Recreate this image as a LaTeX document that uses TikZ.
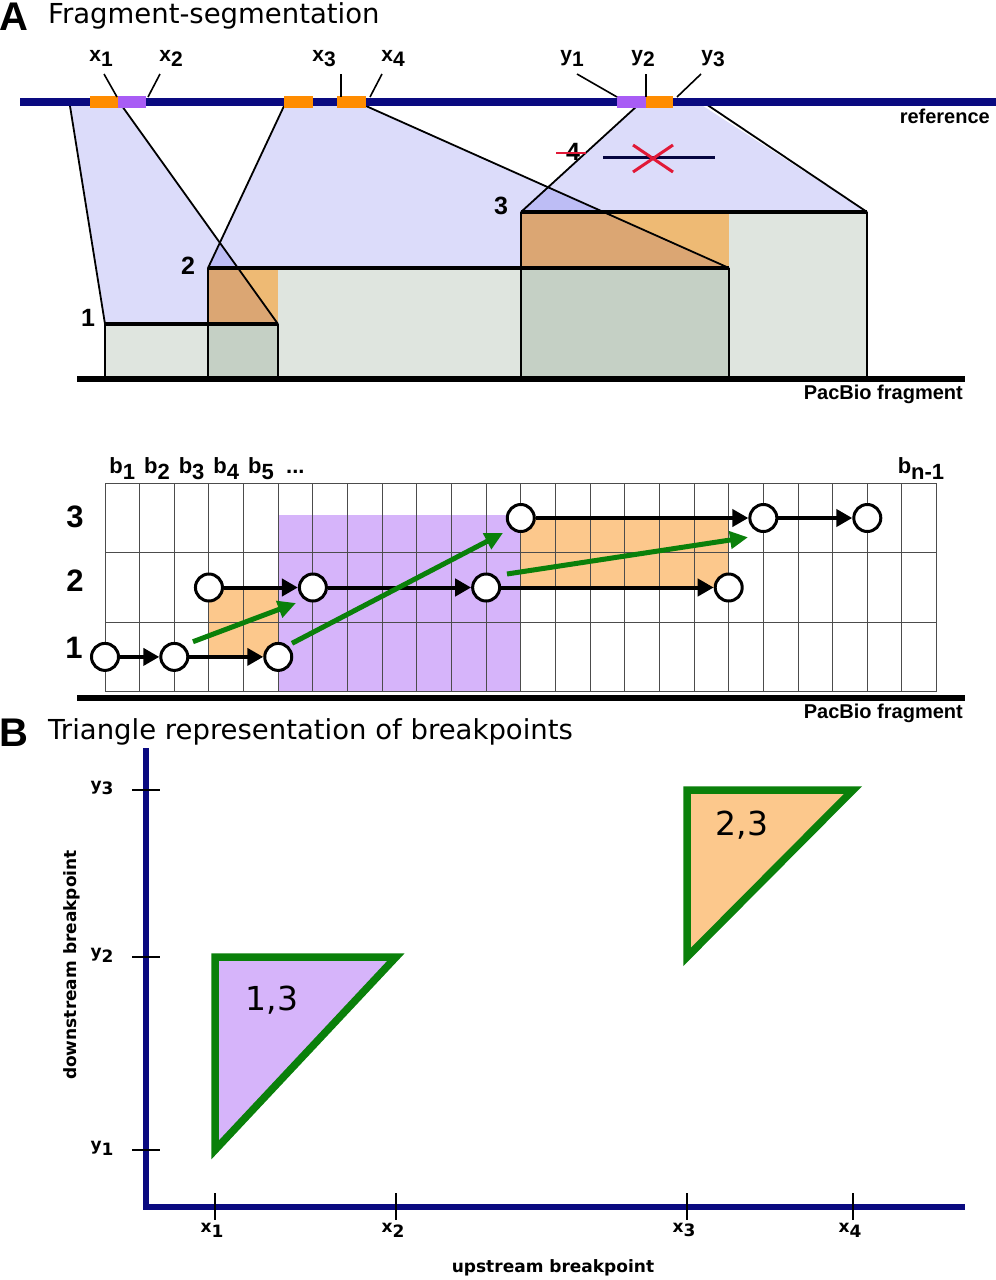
\documentclass[tikz,border=0pt]{standalone}
\usepackage{fontspec}
\setmainfont{Liberation Sans}
\newfontfamily\titlefont{DejaVu Sans}
\usepackage{xcolor}
\usepackage{tikz}
\usetikzlibrary{arrows.meta}
\usetikzlibrary{positioning}
\definecolor{refblue}{RGB}{10,10,128}
\definecolor{segorange}{RGB}{255,140,0}
\definecolor{segpurple}{RGB}{168,92,245}
\definecolor{lavender}{RGB}{220,220,250}
\definecolor{fraggray}{RGB}{223,229,223}
\definecolor{fragdark}{RGB}{197,208,197}
\definecolor{overorange}{RGB}{238,186,116}
\definecolor{overdark}{RGB}{219,166,115}
\definecolor{binpurple}{RGB}{214,180,250}
\definecolor{binorange}{RGB}{252,200,140}
\definecolor{jumpgreen}{RGB}{10,128,10}
\definecolor{crossred}{RGB}{225,25,55}
\newcommand{\lowsub}[1]{\raisebox{-0.28em}{#1}}
\tikzset{
frag side/.style = { draw = black, line width = 1.8pt },
frag top/.style = { draw = black, line width = 4.5pt },
proj edge/.style = { draw = black, line width = 1.8pt },
pos tick/.style = { draw = black, line width = 1.6pt },
pos label/.style = { inner sep = 0pt, anchor = base, font = \bfseries\fontsize{21}{24}\selectfont },
num label/.style = { inner sep = 0pt, font = \bfseries\fontsize{25}{28}\selectfont },
row label/.style = { inner sep = 0pt, font = \bfseries\fontsize{31}{34}\selectfont },
side label/.style = { inner sep = 0pt, anchor = east, font = \bfseries\fontsize{20}{24}\selectfont },
panel title/.style = { inner sep = 0pt, anchor = west, font = \titlefont\fontsize{27.5}{32}\selectfont },
panel letter/.style = { inner sep = 0pt, anchor = west, font = \bfseries\fontsize{40}{44}\selectfont },
bin node/.style = { circle, draw = black, fill = white, line width = 3pt, minimum size = 27pt, inner sep = 0pt },
chain arrow/.style = { draw = black, line width = 4pt, -{Triangle[length = 16pt, width = 17pt]} },
jump arrow/.style = { draw = jumpgreen, line width = 5pt, -{Triangle[length = 18pt, width = 17pt]} },
bin line/.style = { draw = black!70, line width = 1pt },
break axis/.style = { draw = refblue, line width = 6.5pt },
axis tick/.style = { draw = black, line width = 1.4pt },
axis label/.style = { inner sep = 0pt, font = \titlefont\bfseries\fontsize{17}{20}\selectfont },
break tri/.style = { draw = jumpgreen, line width = 7.5pt, line join = miter },
pair label/.style = { inner sep = 0pt, font = \titlefont\fontsize{33}{36}\selectfont }
}
\begin{document}
\begin{tikzpicture}[x = 1pt, y = -1pt]
      \useasboundingbox[fill = white] (0, 0) rectangle (996, 1280);
      % A: fragment segmentation
      \node[panel letter] (pa) at (-1, 17) {A};
      \node[panel title] (ta) at (48, 16) {Fragment-segmentation};
      \fill[fraggray] (105, 324) rectangle (278, 378);
      \fill[fraggray] (208, 268) rectangle (729, 378);
      \fill[fraggray] (521, 212) rectangle (867, 378);
      \fill[fragdark] (208, 324) rectangle (278, 378);
      \fill[fragdark] (521, 268) rectangle (729, 378);
      \begin{scope}[blend mode = multiply]
      \fill[lavender] (70, 106) -- (122, 106) -- (278, 324) -- (105, 324) -- cycle;
      \fill[lavender] (284, 106) -- (366, 106) -- (729, 268) -- (208, 268) -- cycle;
      \fill[lavender] (637, 106) -- (703, 106) -- (867, 212) -- (521, 212) -- cycle;
      \end{scope}
      % overlaps of neighbouring segments
      \fill[overorange] (208, 268) rectangle (278, 324);
      \fill[overorange] (521, 212) rectangle (729, 268);
      \begin{scope}
      \clip (70, 106) -- (122, 106) -- (278, 324) -- (105, 324) -- cycle;
      \fill[overdark] (208, 268) rectangle (278, 324);
      \end{scope}
      \begin{scope}
      \clip (284, 106) -- (366, 106) -- (729, 268) -- (208, 268) -- cycle;
      \fill[overdark] (521, 212) rectangle (729, 268);
      \end{scope}
      \draw[proj edge] (70, 106) -- (105, 324);
      \draw[proj edge] (122, 106) -- (278, 324);
      \draw[proj edge] (284, 106) -- (208, 268);
      \draw[proj edge] (366, 106) -- (729, 268);
      \draw[proj edge] (637, 106) -- (521, 212);
      \draw[proj edge] (673, 102) -- (703, 102) -- (867, 212);
      \draw[frag side] (105, 324) -- (105, 378) (278, 324) -- (278, 378);
      \draw[frag side] (208, 268) -- (208, 378) (729, 268) -- (729, 378);
      \draw[frag side] (521, 212) -- (521, 378) (867, 212) -- (867, 378);
      \draw[frag top] (105, 324) -- (278, 324);
      \draw[frag top] (208, 268) -- (729, 268);
      \draw[frag top] (521, 212) -- (867, 212);
      \node[num label] (f1) at (88, 318) {1};
      \node[num label] (f2) at (188, 266) {2};
      \node[num label] (f3) at (501, 206) {3};
      % rejected segment 4
      \node[num label] (f4) at (573, 152) {4};
      \draw[crossred, line width = 2.5pt] (556, 153) -- (586, 153);
      \draw[refblue!50!black, line width = 3pt] (603, 157) -- (715, 157);
      \draw[crossred, line width = 3pt] (633, 145) -- (673, 172) (633, 172) -- (673, 145);
      % reference
      \draw[refblue, line width = 7.5pt] (20, 102) -- (996, 102);
      \fill[segorange] (90, 96) rectangle (118, 108);
      \fill[segpurple] (118, 96) rectangle (146, 108);
      \fill[segorange] (284, 96) rectangle (313, 108);
      \fill[segorange] (337, 96) rectangle (366, 108);
      \fill[segpurple] (617, 96) rectangle (646, 108);
      \fill[segorange] (646, 96) rectangle (673, 108);
      \node[pos label] (x1) at (101, 61) {x\lowsub{1}};
      \node[pos label] (x2) at (171, 61) {x\lowsub{2}};
      \node[pos label] (x3) at (324, 61) {x\lowsub{3}};
      \node[pos label] (x4) at (393, 61) {x\lowsub{4}};
      \node[pos label] (y1) at (572, 61) {y\lowsub{1}};
      \node[pos label] (y2) at (643, 61) {y\lowsub{2}};
      \node[pos label] (y3) at (713, 61) {y\lowsub{3}};
      \draw[pos tick] (104, 74) -- (117, 97);
      \draw[pos tick] (160, 74) -- (148, 97);
      \draw[pos tick] (341, 74) -- (341, 97);
      \draw[pos tick] (382, 74) -- (370, 97);
      \draw[pos tick] (577, 74) -- (617, 97);
      \draw[pos tick] (646, 74) -- (646, 97);
      \draw[pos tick] (701, 74) -- (677, 97);
      \node[side label] (ref) at (990, 116) {reference};
      \draw[line width = 6pt] (77, 379) -- (965, 379);
      \node[side label] (pb1) at (963, 394) {PacBio fragment};
      % bins
      \fill[binpurple] (278.25, 515) rectangle (520.8, 691.65);
      \fill[binorange] (208.95, 587.5) rectangle (278.25, 656.9);
      \fill[binorange] (520.8, 518) rectangle (728.7, 587.5);
      \foreach \i in {0,...,24}
        \draw[bin line] ({105 + \i*34.65}, 483.3) -- ({105 + \i*34.65}, 691.65);
      \foreach \j in {0,...,3}
        \draw[bin line] (105, {483.3 + \j*69.45}) -- (936.6, {483.3 + \j*69.45});
      \foreach \k in {1,...,5}
        \node[pos label, font = \bfseries\fontsize{22}{24}\selectfont] (b\k) at ({105 + (\k - 0.5)*34.65}, 473) {b\lowsub{\k}};
      \node[pos label, font = \bfseries\fontsize{22}{24}\selectfont] (bdots) at (295.4, 473) {...};
      \node[pos label, font = \bfseries\fontsize{22}{24}\selectfont] (bn) at (921, 473) {b\lowsub{n-1}};
      \node[row label] (r3) at (75, 517) {3};
      \node[row label] (r2) at (75, 581) {2};
      \node[row label] (r1) at (74, 648) {1};
      \node[bin node] (n11) at (105, 656.9) {};
      \node[bin node] (n12) at (174.3, 656.9) {};
      \node[bin node] (n13) at (278.25, 656.9) {};
      \node[bin node] (n21) at (208.95, 587.5) {};
      \node[bin node] (n22) at (312.9, 587.5) {};
      \node[bin node] (n23) at (486.15, 587.5) {};
      \node[bin node] (n24) at (728.7, 587.5) {};
      \node[bin node] (n31) at (520.8, 518) {};
      \node[bin node] (n32) at (763.35, 518) {};
      \node[bin node] (n33) at (867.3, 518) {};
      \draw[chain arrow] (n11) -- (n12);
      \draw[chain arrow] (n12) -- (n13);
      \draw[chain arrow] (n21) -- (n22);
      \draw[chain arrow] (n22) -- (n23);
      \draw[chain arrow] (n23) -- (n24);
      \draw[chain arrow] (n31) -- (n32);
      \draw[chain arrow] (n32) -- (n33);
      \coordinate (g1s) at (193, 641.7);
      \coordinate (g1e) at (296, 603);
      \coordinate (g2s) at (292, 643.3);
      \coordinate (g2e) at (503, 533);
      \coordinate (g3s) at (507, 574);
      \coordinate (g3e) at (748, 537.3);
      \draw[jump arrow] (g1s) -- (g1e);
      \draw[jump arrow] (g2s) -- (g2e);
      \draw[jump arrow] (g3s) -- (g3e);
      \draw[line width = 6pt] (77, 697.5) -- (965, 697.5);
      \node[side label] (pb2) at (963, 713) {PacBio fragment};
      % B: triangles
      \node[panel letter] (pbl) at (-1, 733) {B};
      \node[panel title] (tb) at (48, 732) {Triangle representation of breakpoints};
      \fill[binpurple] (215, 957) -- (396, 957) -- (215, 1150) -- cycle;
      \fill[binorange] (687, 790) -- (853, 790) -- (687, 957) -- cycle;
      \draw[break tri] (215, 957) -- (396, 957) -- (215, 1150) -- cycle;
      \draw[break tri] (687, 790) -- (853, 790) -- (687, 957) -- cycle;
      \node[pair label] (t13) at (272, 1000) {1,3};
      \node[pair label] (t23) at (742, 825) {2,3};
      \draw[break axis] (146, 748) -- (146, 1207) -- (965, 1207);
      \foreach \v/\t in {790/3, 957/2, 1150/1} {
        \draw[axis tick] (132, \v) -- (160, \v);
        \node[axis label] (ay\t) at (102, \v - 2) {y\lowsub{\t}};
      }
      \foreach \u/\t in {215/1, 396/2, 687/3, 853/4} {
        \draw[axis tick] (\u, 1193) -- (\u, 1220);
        \node[axis label] (ax\t) at (\u - 3, 1230) {x\lowsub{\t}};
      }
      \node[axis label, rotate = 90] (down) at (72, 965) {downstream breakpoint};
      \node[axis label] (up) at (553, 1268) {upstream breakpoint};
    \end{tikzpicture}
\end{document}
